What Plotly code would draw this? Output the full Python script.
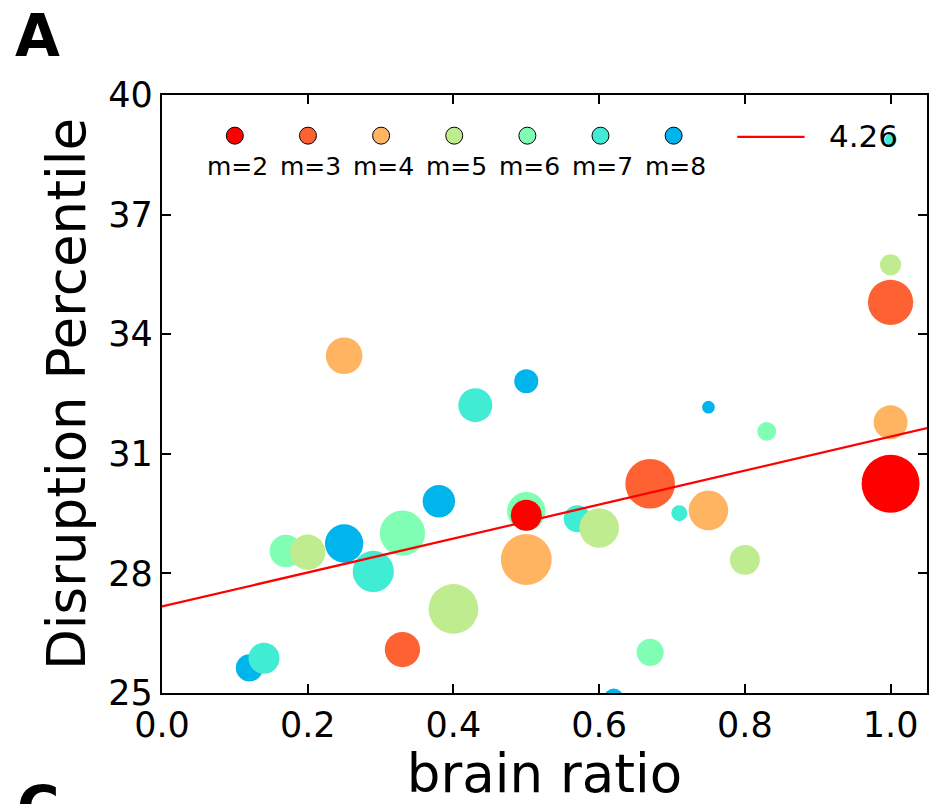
import plotly.graph_objects as go

# brain ratio (x), disruption percentile (y), motif size m, and sample count per point
brain_ratio = [0.12, 0.14, 0.17, 0.20, 0.25, 0.25, 0.29, 0.33, 0.33, 0.38,
               0.40, 0.43, 0.50, 0.50, 0.50, 0.50, 0.57, 0.60, 0.62, 0.67,
               0.67, 0.71, 0.75, 0.75, 0.83, 0.80, 1.00, 1.00, 1.00, 1.00,
               1.00, 0.86]
disruption = [25.63, 25.87, 28.56, 28.53, 33.46, 28.75, 28.05, 29.01, 26.09, 29.81,
              27.11, 32.22, 32.82, 29.56, 29.46, 28.35, 29.37, 29.14, 24.88, 30.25,
              26.02, 29.51, 29.58, 32.17, 31.56, 28.34, 35.74, 34.80, 31.79, 30.25,
              38.88, 24.86]
motif_m = [8, 7, 6, 5, 4, 8, 7, 6, 3, 8,
           5, 7, 8, 6, 2, 4, 7, 5, 8, 3,
           6, 7, 4, 8, 6, 5, 5, 3, 4, 2,
           7, 7]
n_samples = [23, 30, 33, 39, 42, 46, 53, 64, 39, 33,
             77, 36, 18, 46, 30, 81, 23, 49, 11, 77,
             23, 8, 49, 5, 11, 28, 14, 64, 36, 105,
             4, 4]

m_levels = [2, 3, 4, 5, 6, 7, 8]
m_colors = {2: "#FF0000", 3: "#FF6232", 4: "#FFB462", 5: "#BFEC8E",
            6: "#80FFB4", 7: "#40ECD4", 8: "#00B4EC"}

# fitted trend line
slope = 4.26
intercept = 27.17
x_fit = [0.0, 1.05]

FONT = "DejaVu Sans"

fig = go.Figure()

# draw larger m first so smaller m sit on top
for m in sorted(m_levels, reverse=True):
    idx = [i for i, v in enumerate(motif_m) if v == m]
    fig.add_trace(go.Scatter(
        x=[brain_ratio[i] for i in idx],
        y=[disruption[i] for i in idx],
        mode="markers",
        marker=dict(color=m_colors[m], size=[n_samples[i] for i in idx],
                    sizemode="area", sizeref=1 / 16, line=dict(width=0),
                    opacity=1),
        showlegend=False, hoverinfo="x+y",
        cliponaxis=True,
    ))

fig.add_trace(go.Scatter(
    x=x_fit, y=[intercept + slope * v for v in x_fit],
    mode="lines", line=dict(color="#FF0000", width=2.3),
    showlegend=False,
))

# key drawn on an overlay axis in fractional plot coordinates
key_x0, key_dx, key_y = 0.0952, 0.0956, 0.932
key_x = [key_x0 + key_dx * k for k in range(len(m_levels))]
fig.add_trace(go.Scatter(
    x=key_x, y=[key_y] * len(m_levels), xaxis="x2", yaxis="y2",
    mode="markers",
    marker=dict(color=[m_colors[m] for m in m_levels], size=17,
                line=dict(color="black", width=1)),
    showlegend=False, hoverinfo="skip",
))
fig.add_trace(go.Scatter(
    x=[0.752, 0.840], y=[0.930, 0.930], xaxis="x2", yaxis="y2",
    mode="lines", line=dict(color="#FF0000", width=2.3),
    showlegend=False, hoverinfo="skip",
))

annotations = []
for xk, m in zip(key_x, m_levels):
    annotations.append(dict(x=xk + 0.003, y=0.880, xref="paper", yref="paper",
                            text=f"m={m}", showarrow=False,
                            font=dict(family=FONT, size=25, color="black"),
                            xanchor="center", yanchor="middle"))
annotations.append(dict(x=0.9166, y=0.932, xref="paper", yref="paper",
                        text=f"{slope:.2f}", showarrow=False,
                        font=dict(family=FONT, size=31, color="black"),
                        xanchor="center", yanchor="middle"))
# panel letters
annotations.append(dict(x=-0.163, y=1.157, xref="paper", yref="paper",
                        text="<b>A</b>", showarrow=False,
                        font=dict(family=FONT, size=58, color="black"),
                        xanchor="center", yanchor="top", borderpad=0))
annotations.append(dict(x=-0.162, y=-0.192, xref="paper", yref="paper",
                        text="<b>C</b>", showarrow=False,
                        font=dict(family=FONT, size=58, color="black"),
                        xanchor="center", yanchor="middle"))

axis_common = dict(
    showline=True, linecolor="black", linewidth=2.2, mirror="ticks",
    ticks="inside", ticklen=9, tickwidth=1.5, tickcolor="black",
    showgrid=False, zeroline=False,
    tickfont=dict(family=FONT, size=35, color="black"),
)

fig.update_layout(
    width=930, height=804,
    margin=dict(l=162, r=1, t=95, b=111),
    paper_bgcolor="white", plot_bgcolor="white",
    font=dict(family=FONT, color="black"),
    xaxis=dict(range=[0, 1.05], tickvals=[0, 0.2, 0.4, 0.6, 0.8, 1.0],
               tickformat=".1f",
               title=dict(text="brain ratio", font=dict(family=FONT, size=53),
                          standoff=4),
               **axis_common),
    yaxis=dict(range=[25, 40], tickvals=[25, 28, 31, 34, 37, 40],
               title=dict(text="Disruption Percentile",
                          font=dict(family=FONT, size=53), standoff=6),
               **axis_common),
    xaxis2=dict(overlaying="x", range=[0, 1], visible=False, domain=[0, 1]),
    yaxis2=dict(overlaying="y", range=[0, 1], visible=False, domain=[0, 1]),
    annotations=annotations,
    showlegend=False,
)

fig.write_html("out.html")
